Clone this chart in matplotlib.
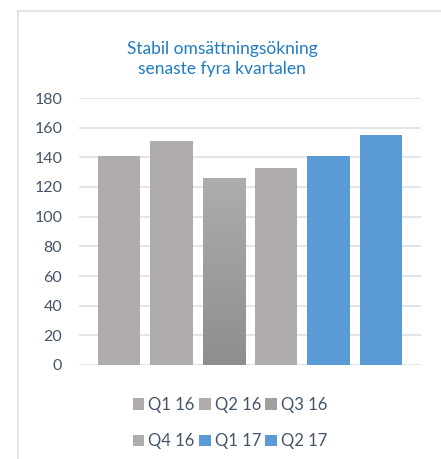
import matplotlib
matplotlib.use("Agg")
import matplotlib.pyplot as plt
import numpy as np
from matplotlib.lines import Line2D
from matplotlib.patches import Patch
from matplotlib.colors import LinearSegmentedColormap

series = ["Q1 16", "Q2 16", "Q3 16", "Q4 16", "Q1 17", "Q2 17"]
values = [141, 151, 126, 133, 141, 155]
colors = ["#AFACAB", "#AFACAB", "#A0A0A0", "#AFACAB", "#5B9BD5", "#5B9BD5"]
title = "Stabil omsättningsökning\nsenaste fyra kvartalen"
yticks = [0, 20, 40, 60, 80, 100, 120, 140, 160, 180]

plt.rcParams['font.family'] = ['Lato', 'DejaVu Sans']

fig = plt.figure(figsize=(4.41, 4.59), dpi=100)
ax = fig.add_axes([79/441, 1-365/459, (421-79)/441, (365-98)/459])

x = np.arange(len(series))
bars = ax.bar(x, values, width=0.81, color=colors, zorder=3)

# gradient for Q3 16
b = bars[2]
grad = np.linspace(0, 1, 256).reshape(-1, 1)
cmap = LinearSegmentedColormap.from_list("g", ["#8E8E8E", "#ADADAD"])
bx, bw, bh = b.get_x(), b.get_width(), b.get_height()
im = ax.imshow(grad, cmap=cmap, origin="lower", aspect="auto",
               extent=[bx, bx + bw, 0, bh], zorder=4)
im.set_clip_path(b)
b.set_facecolor("none")

ax.set_xlim(-0.77, len(series) - 1 + 0.77)
ax.set_ylim(0, 180)
ax.set_yticks(yticks)
ax.set_xticks([])
ax.tick_params(axis="y", length=0, pad=12, labelsize=11.5, labelcolor="#44546A")
ax.grid(axis="y", color="#DDE2E8", linewidth=1.2, zorder=0)
for s in ax.spines.values():
    s.set_visible(False)

fig.text(222/441, 1-59/459, title, ha="center", va="center",
         fontsize=12.5, color="#1F7CC4", linespacing=1.35)

# frame
fig.add_artist(Line2D([18/441, 18/441], [0, 1-11/459], transform=fig.transFigure,
                      color="#DCE1E8", linewidth=1.2))
fig.add_artist(Line2D([18/441, 1], [1-11/459, 1-11/459], transform=fig.transFigure,
                      color="#DCE1E8", linewidth=1.2))

order = [0, 3, 1, 4, 2, 5]
handles = [Patch(facecolor=colors[i], edgecolor="none") for i in order]
labels = [series[i] for i in order]
leg = fig.legend(handles, labels, ncol=3, loc="center", bbox_to_anchor=(230/441, 1-423/459),
                 frameon=False, fontsize=12, handlelength=0.7, handleheight=0.7,
                 handletextpad=0.25, columnspacing=0.25, labelspacing=1.25)
for t in leg.get_texts():
    t.set_color("#44546A")

fig.savefig("out.png", dpi=100, facecolor="white")
